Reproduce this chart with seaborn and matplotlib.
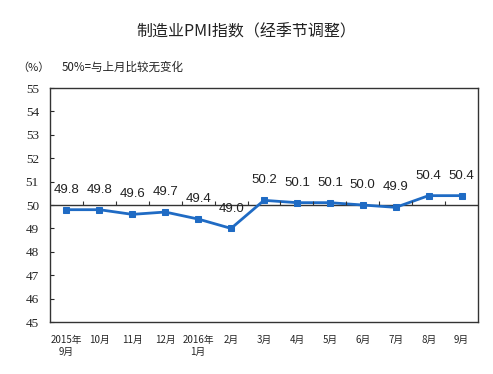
"""Manufacturing PMI (seasonally adjusted) chart."""
import numpy as np
import pandas as pd
import matplotlib
matplotlib.use('Agg')
import matplotlib.pyplot as plt
import seaborn as sns

MONTHS = ["2015年\n9月", "10月", "11月", "12月", "2016年\n1月", "2月", "3月",
          "4月", "5月", "6月", "7月", "8月", "9月"]
PMI = [49.8, 49.8, 49.6, 49.7, 49.4, 49.0, 50.2, 50.1, 50.1, 50.0, 49.9, 50.4, 50.4]
Y_TICKS = list(range(45, 56))

LINE_COLOR = "#1f6bc4"
CJK = ["Noto Sans CJK SC", "DejaVu Sans"]

sns.set_style("white")
plt.rcParams["font.family"] = CJK

df = pd.DataFrame({"pos": np.arange(len(MONTHS)), "pmi": PMI})

fig = plt.figure(figsize=(4.93, 3.74), dpi=100)
ax = fig.add_axes([0.1014, 0.139, 0.8682, 0.6257])

sns.lineplot(data=df, x="pos", y="pmi", ax=ax, color=LINE_COLOR, linewidth=2,
             marker="s", markersize=4, markeredgecolor=LINE_COLOR)

ax.set_xlim(-0.5, len(MONTHS) - 0.5)
ax.set_ylim(45, 55)
ax.set_yticks(Y_TICKS)
ax.set_yticklabels([str(v) for v in Y_TICKS], fontfamily="Liberation Serif", fontsize=9.5)
ax.tick_params(axis="y", direction="in", length=3, width=0.8, pad=8, left=True)
ax.set_xticks(df["pos"])
ax.set_xticklabels(MONTHS, fontsize=7, linespacing=1.3)
ax.tick_params(axis="x", length=0, pad=9)
ax.set_xlabel("")
ax.set_ylabel("")

for s in ax.spines.values():
    s.set_color("#333333")
    s.set_linewidth(1)

# 50 reference line with tick marks between categories
ax.axhline(50, color="#333333", linewidth=1, zorder=1)
ax.vlines(df["pos"][:-1] + 0.5, 50, 50.17, color="#333333", linewidth=0.8)

for x, y in zip(df["pos"], df["pmi"]):
    ax.annotate(f"{y:.1f}", (x, y), xytext=(0, 10), textcoords="offset points",
                ha="center", va="bottom", fontsize=9.5, fontfamily="Liberation Sans",
                color="#222222")

fig.text(0.5, 0.915, "制造业PMI指数（经季节调整）", ha="center", va="center",
         fontsize=11.5, color="#222222")
fig.text(0.035, 0.82, "（%）", ha="left", va="center", fontsize=8, color="#222222")
fig.text(0.125, 0.82, "50%=与上月比较无变化", ha="left", va="center", fontsize=8.3,
         color="#222222")

fig.savefig("out.png", dpi=100)
